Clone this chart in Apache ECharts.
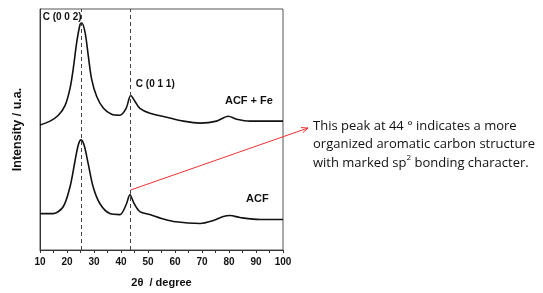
<!DOCTYPE html>
<html>
<head>
<meta charset="utf-8">
<script src="https://cdn.jsdelivr.net/npm/echarts@6/dist/echarts.min.js"></script>
<style>
  html, body { margin: 0; padding: 0; background: #fff; }
  #chart { width: 543px; height: 293px; }
</style>
</head>
<body>
<div id="chart"></div>
<script>
// 2θ / intensity pairs (intensity in arbitrary units)
const acfFe = [
  [10, 127], [13.7, 131], [16.8, 137], [19.3, 147], [21.1, 164], [22.3, 184],
  [23.6, 211], [24.8, 229], [25.4, 231], [26.7, 221], [27.9, 197], [29.1, 174],
  [31.0, 156], [33.5, 144], [36.5, 138], [39.6, 137], [41.9, 144], [43.6, 157],
  [45.2, 151], [47.0, 144], [50.7, 139], [56.9, 135], [63.1, 131], [69.3, 129],
  [75.4, 131], [79.7, 136], [82.8, 133], [87.8, 131], [100, 131]
]
const acf = [
  [10, 37], [14.9, 37], [18.6, 44], [21.1, 64], [23.0, 91], [24.2, 107],
  [25.2, 112], [26.4, 106], [27.9, 87], [29.7, 64], [32.2, 47], [35.9, 37],
  [39.6, 36], [41.9, 46], [43.3, 56], [44.9, 47], [47.0, 39], [50.7, 36],
  [55.0, 32], [59.4, 29], [69.3, 27], [74.2, 30], [77.9, 34], [80.4, 35],
  [84.1, 33], [91.5, 31], [100, 31]
]
const peakLines = [25.3, 43.6]
const xTicks = [10, 20, 30, 40, 50, 60, 70, 80, 90, 100]

const chart = echarts.init(document.getElementById('chart'))
const boldFont = 'Liberation Sans'

const option = {
  animation: false,
  grid: { left: 40, right: 260, top: 9, bottom: 39, show: true, borderColor: '#555', borderWidth: 1 },
  xAxis: {
    type: 'value',
    min: 10,
    max: 100,
    interval: 10,
    name: '2θ  / degree',
    nameLocation: 'middle',
    nameGap: 27,
    nameTextStyle: { fontFamily: boldFont, fontWeight: 'bold', fontSize: 11, color: '#111' },
    axisLine: { lineStyle: { color: '#333', width: 1 } },
    axisTick: { show: true, length: 3, lineStyle: { color: '#333' } },
    minorTick: { show: true, splitNumber: 2, length: 3, lineStyle: { color: '#333' } },
    splitLine: { show: false },
    axisLabel: {
      fontFamily: boldFont, fontWeight: 'bold', fontSize: 10, color: '#111', margin: 7,
      formatter: v => xTicks.includes(v) ? String(v) : ''
    }
  },
  yAxis: {
    type: 'value',
    min: 0,
    max: 245,
    name: 'Intensity / u.a.',
    nameLocation: 'middle',
    nameGap: 16,
    nameTextStyle: { fontFamily: boldFont, fontWeight: 'bold', fontSize: 12.5, color: '#111' },
    axisLine: { show: true, lineStyle: { color: '#333' } },
    axisTick: { show: false },
    axisLabel: { show: false },
    splitLine: { show: false }
  },
  series: [
    {
      name: 'ACF + Fe',
      type: 'line',
      data: acfFe,
      smooth: 0.3,
      showSymbol: false,
      lineStyle: { color: '#111', width: 1.6 },
      markLine: {
        silent: true,
        symbol: 'none',
        label: { show: false },
        lineStyle: { color: '#444', type: [4, 3], width: 1 },
        data: peakLines.map(v => ({ xAxis: v }))
      }
    },
    {
      name: 'ACF',
      type: 'line',
      data: acf,
      smooth: 0.3,
      showSymbol: false,
      lineStyle: { color: '#111', width: 1.6 }
    }
  ]
}
chart.setOption(option)

// labels and the arrow, placed via the chart's own scales
const px = (x, y) => chart.convertToPixel({ gridIndex: 0 }, [x, y])
const lbl = (x, y, text, size) => {
  const p = px(x, y)
  return {
    type: 'text', x: p[0], y: p[1],
    style: { text: text, fill: '#111', font: 'bold ' + (size || 10) + 'px "Liberation Sans"', textVerticalAlign: 'middle' }
  }
}
const start = px(43.6, 61)
const end = [308, 128]
const ang = Math.atan2(end[1] - start[1], end[0] - start[0])
const head = a => [end[0] - 7 * Math.cos(ang + a), end[1] - 7 * Math.sin(ang + a)]

chart.setOption({
  graphic: [
    lbl(11, 237, 'C (0 0 2)'),
    lbl(45.5, 169, 'C (0 1 1)'),
    lbl(78.5, 151, 'ACF + Fe', 11),
    lbl(86.3, 52, 'ACF', 11),
    { type: 'line', shape: { x1: start[0], y1: start[1], x2: end[0], y2: end[1] }, style: { stroke: '#f03030', lineWidth: 1 } },
    { type: 'polyline', shape: { points: [head(0.4), end, head(-0.4)] }, style: { stroke: '#f03030', lineWidth: 1, fill: null } },
    {
      type: 'text', x: 313, y: 117,
      style: {
        text: 'This peak at 44 ° indicates a more\norganized aromatic carbon structure\nwith marked sp{sup|2} bonding character.',
        fill: '#111', font: '13px "Open Sans"', lineHeight: 18.5,
        rich: { sup: { fontSize: 8, verticalAlign: 'top', fontFamily: 'Open Sans', padding: [0, 0, 8, 0] } }
      }
    }
  ]
})
</script>
</body>
</html>
